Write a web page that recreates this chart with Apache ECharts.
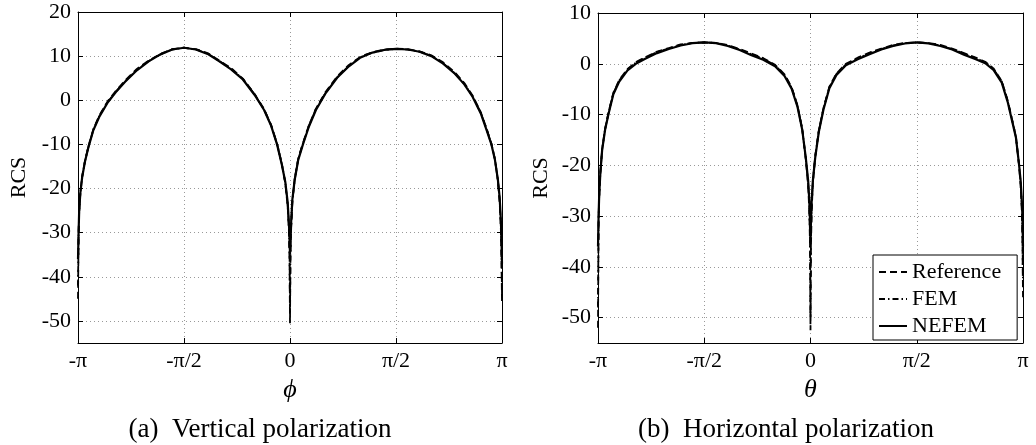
<!DOCTYPE html>
<html>
<head>
<meta charset="utf-8">
<script src="https://cdn.jsdelivr.net/npm/echarts@6/dist/echarts.min.js"></script>
<style>
  html, body { margin: 0; padding: 0; background: #fff; }
  #chart { width: 1036px; height: 445px; }
</style>
</head>
<body>
<div id="chart"></div>
<script>
// angle samples in degrees, shared by every curve
var angles = [-180, -179.5, -179, -178, -176.5, -174, -171, -167, -162, -155, -148, -140, -130, -120, -110, -100, -90,
  -80, -70, -60, -50, -40, -30, -22, -16, -11, -7, -4, -2, -1, -0.4, 0,
  0.4, 1, 2, 4, 7, 11, 16, 22, 30, 40, 50, 60, 70, 80, 90,
  100, 110, 120, 130, 140, 148, 155, 162, 167, 171, 174, 176.5, 178, 179, 179.5, 180];
var xTickLabels = ['-π', '-π/2', '0', 'π/2', 'π'];
var seriesNames = ['Reference', 'FEM', 'NEFEM'];

// (a) vertical polarization
var vertNefem = [-36, -30, -25, -21, -17.5, -13.8, -10.5, -6.8, -3.8, -0.6, 1.8, 4.2, 6.8, 8.8, 10.4, 11.5, 11.9,
  11.5, 10.5, 8.8, 7.0, 4.7, 1.2, -2.2, -5.8, -10, -14.5, -18.5, -23, -27.5, -31, -35,
  -31, -27.5, -22.5, -18, -13.5, -10, -6, -2.2, 1.5, 5.1, 7.7, 9.7, 10.8, 11.4, 11.65,
  11.5, 11.0, 10.0, 8.3, 6.0, 3.6, 0.8, -3, -6.8, -10, -13.5, -18, -22, -27, -31, -37];
var vertRef = [-45, -30.5, -25.5, -21, -17.3, -13.6, -10.3, -6.6, -3.5, -0.3, 2.1, 4.5, 7.1, 9.0, 10.5, 11.6, 11.9,
  11.6, 10.7, 9.0, 7.3, 4.9, 1.4, -2.0, -5.6, -9.8, -14.3, -18.8, -24, -29, -36, -50.5,
  -36, -29, -23, -17.8, -13.2, -9.7, -5.7, -1.9, 1.8, 5.4, 8.0, 9.9, 10.9, 11.5, 11.7,
  11.6, 11.1, 10.2, 8.6, 6.3, 3.9, 1.1, -2.7, -6.5, -9.8, -13.3, -18.2, -23, -29, -35, -46];
var vertFem = [-42, -30.2, -25.2, -21, -17.4, -13.7, -10.4, -6.7, -3.6, -0.5, 1.9, 4.3, 6.9, 8.9, 10.4, 11.5, 11.9,
  11.5, 10.6, 8.9, 7.1, 4.8, 1.3, -2.1, -5.7, -9.9, -14.4, -18.6, -23.5, -28.5, -34, -48,
  -34, -28.5, -22.8, -17.9, -13.3, -9.8, -5.8, -2.0, 1.6, 5.2, 7.8, 9.8, 10.8, 11.4, 11.65,
  11.5, 11.0, 10.1, 8.4, 6.1, 3.7, 0.9, -2.8, -6.6, -9.9, -13.4, -18.1, -22.5, -28, -33, -44];

// (b) horizontal polarization
var horNefem = [-36, -30, -26, -21.5, -17, -13, -9.8, -6.0, -3.5, -1.3, 0, 1.0, 2.1, 2.9, 3.6, 4.05, 4.2,
  4.05, 3.5, 2.7, 1.7, 0.8, -0.5, -2.4, -4.9, -8.5, -13, -18.5, -23, -27, -31, -35,
  -31, -27, -23, -18.5, -13.5, -9, -4.8, -2.2, -0.3, 0.9, 1.9, 2.8, 3.5, 4.0, 4.2,
  4.0, 3.5, 2.8, 1.8, 0.9, 0.1, -1.2, -3.7, -7.5, -11.5, -14.5, -19.5, -23, -27, -30, -36];
var horRef = [-52, -31, -26.5, -21.5, -16.8, -12.8, -9.5, -5.7, -3.2, -1.0, 0.3, 1.3, 2.4, 3.1, 3.8, 4.1, 4.2,
  4.1, 3.7, 2.9, 2.0, 1.1, -0.2, -2.1, -4.6, -8.2, -12.8, -18.8, -24, -29, -36, -52.5,
  -36, -29, -23.5, -18.2, -13.2, -8.7, -4.5, -1.9, 0, 1.2, 2.2, 3.0, 3.7, 4.1, 4.2,
  4.1, 3.7, 3.0, 2.1, 1.2, 0.4, -0.9, -3.4, -7.2, -11.2, -14.3, -19.7, -24, -29, -34, -46];
var horFem = [-48, -30.5, -26.2, -21.5, -16.9, -12.9, -9.6, -5.8, -3.3, -1.1, 0.2, 1.2, 2.3, 3.0, 3.7, 4.1, 4.2,
  4.1, 3.6, 2.8, 1.9, 1.0, -0.3, -2.2, -4.7, -8.3, -12.9, -18.6, -23.5, -28, -34, -50,
  -34, -28, -23.2, -18.3, -13.3, -8.8, -4.6, -2.0, -0.1, 1.1, 2.1, 2.9, 3.6, 4.05, 4.2,
  4.05, 3.6, 2.9, 2.0, 1.1, 0.3, -1.0, -3.5, -7.3, -11.3, -14.4, -19.6, -23.5, -28, -32, -44];

var font = 'Liberation Serif';

var pairUp = function (ys) { // [angle, value] points
  var res = [];
  for (var i = 0; i < angles.length; i++) {
    res.push([angles[i], ys[i]]);
  }
  return res;
};

var mainX = function (gi, title) {
  return {
    gridIndex: gi, type: 'value', min: -180, max: 180, interval: 90, position: 'bottom',
    axisLine: { show: true, onZero: false, lineStyle: { color: '#000', width: 1 } },
    axisTick: { show: true, inside: true, length: 5, lineStyle: { color: '#000' } },
    axisLabel: {
      color: '#000', fontFamily: font, fontSize: 22, margin: 7,
      formatter: function (v) { return xTickLabels[Math.round((v + 180) / 90)]; }
    },
    splitLine: { show: true, lineStyle: { color: '#999', width: 1, type: [1, 3] } },
    name: title, nameLocation: 'middle', nameGap: 32,
    nameTextStyle: { color: '#000', fontFamily: font, fontSize: 26, fontStyle: 'italic' }
  };
};
var sideX = function (gi) {
  return {
    gridIndex: gi, type: 'value', min: -180, max: 180, interval: 90, position: 'top',
    axisLine: { show: true, onZero: false, lineStyle: { color: '#000' } },
    axisTick: { show: true, inside: true, length: 5, lineStyle: { color: '#000' } },
    axisLabel: { show: false }, splitLine: { show: false }
  };
};
var mainY = function (gi, max, gap) {
  return {
    gridIndex: gi, type: 'value', min: -55, max: max, splitNumber: 7, position: 'left',
    axisLine: { show: true, onZero: false, lineStyle: { color: '#000', width: 1 } },
    axisTick: { show: true, inside: true, length: 5, lineStyle: { color: '#000' } },
    axisLabel: { color: '#000', fontFamily: font, fontSize: 22, margin: 7, showMinLabel: false },
    splitLine: { show: true, lineStyle: { color: '#999', width: 1, type: [1, 3] } },
    name: 'RCS', nameLocation: 'middle', nameGap: gap, nameRotate: 90,
    nameTextStyle: { color: '#000', fontFamily: font, fontSize: 22 }
  };
};
var sideY = function (gi, max) {
  return {
    gridIndex: gi, type: 'value', min: -55, max: max, splitNumber: 7, position: 'right',
    axisLine: { show: true, onZero: false, lineStyle: { color: '#000' } },
    axisTick: { show: true, inside: true, length: 5, lineStyle: { color: '#000' } },
    axisLabel: { show: false }, splitLine: { show: false }
  };
};

var styles = [
  { color: '#000', width: 1.8, type: [7, 4] },
  { color: '#000', width: 1.8, type: [6, 3, 1.5, 3] },
  { color: '#000', width: 2.2, type: 'solid' }
];
var curves = [[vertRef, vertFem, vertNefem], [horRef, horFem, horNefem]];
var series = [];
for (var g = 0; g < 2; g++) {
  for (var k = 0; k < 3; k++) {
    series.push({
      name: seriesNames[k], type: 'line', xAxisIndex: g * 2, yAxisIndex: g * 2,
      data: pairUp(curves[g][k]), symbol: 'none', color: '#000',
      itemStyle: { color: '#000' }, lineStyle: styles[k], z: 2 + k
    });
  }
}

var myChart = echarts.init(document.getElementById('chart'));
var option = {
  animation: false,
  backgroundColor: '#fff',
  grid: [
    { left: 78, top: 12, width: 424, height: 331 },
    { left: 598, top: 13, width: 425, height: 330 }
  ],
  xAxis: [mainX(0, 'ϕ'), sideX(0), mainX(1, 'θ'), sideX(1)],
  yAxis: [mainY(0, 20, 48), sideY(0, 20), mainY(1, 10, 46), sideY(1, 10)],
  legend: {
    data: seriesNames, orient: 'vertical', left: 873, top: 255,
    padding: [6, 16, 3, 5], itemGap: 5, itemWidth: 28, itemHeight: 14,
    itemStyle: { color: 'rgba(0,0,0,0)', borderWidth: 0 },
    backgroundColor: '#fff', borderColor: '#000', borderWidth: 1, borderRadius: 0,
    textStyle: { color: '#000', fontFamily: font, fontSize: 22, lineHeight: 22 }
  },
  graphic: [
    { type: 'text', style: { text: '(a)  Vertical polarization', x: 260, y: 430, align: 'center', verticalAlign: 'middle', fill: '#000', font: '27px "Liberation Serif"' } },
    { type: 'text', style: { text: '(b)  Horizontal polarization', x: 786, y: 430, align: 'center', verticalAlign: 'middle', fill: '#000', font: '27px "Liberation Serif"' } }
  ],
  series: series
};
myChart.setOption(option);
</script>
</body>
</html>
